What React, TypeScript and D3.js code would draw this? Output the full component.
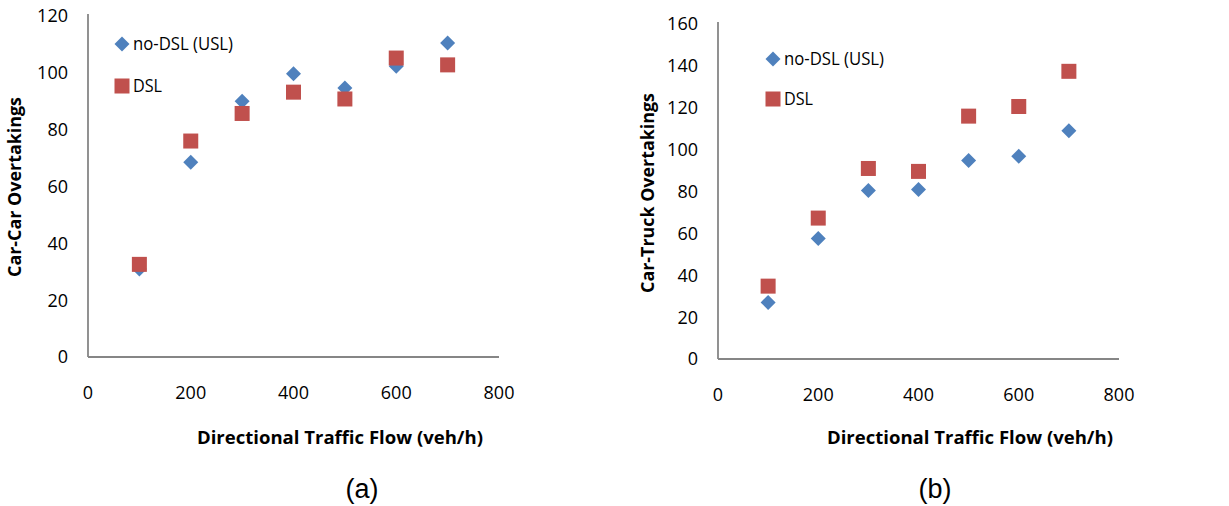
import React from "react";
import * as d3 from "d3";

const flows = [100, 200, 300, 400, 500, 600, 700];
const carCarNoDSL = [31, 68.5, 90, 99.7, 94.7, 102.3, 110.5];
const carCarDSL = [32.6, 76, 85.7, 93.2, 90.8, 105.2, 102.8];
const carTruckNoDSL = [27, 57.5, 80.5, 81, 94.8, 96.8, 109];
const carTruckDSL = [34.8, 67.3, 91, 89.6, 116, 120.6, 137.4];
const xTicks = [0, 200, 400, 600, 800];
const yTicksA = [0, 20, 40, 60, 80, 100, 120];
const yTicksB = [0, 20, 40, 60, 80, 100, 120, 140, 160];
const seriesNames = ["no-DSL (USL)", "DSL"];
const xTitle = "Directional Traffic Flow (veh/h)";

const BLUE = "#4F81BD";
const RED = "#C0504D";
const FONT = "'Open Sans', 'Noto Sans', sans-serif";
const TICK_FS = 18;

type PanelProps = {
  x0: number; x1: number; yTop: number; yBot: number; yMax: number;
  yTicks: number[]; noDSL: number[]; dsl: number[]; yTitle: string;
  yTitleX: number; yTitleY: number; yTitleLen: number;
  xTitleX: number; legendX: number; legendY1: number; legendY2: number;
  label: string; labelX: number;
};

const H = 7.5;
const diamondPath = `M0,${-H}L${H},0L0,${H}L${-H},0Z`;

function Panel(p: PanelProps) {
  const x = d3.scaleLinear().domain([0, 800]).range([p.x0, p.x1]);
  const y = d3.scaleLinear().domain([0, p.yMax]).range([p.yBot, p.yTop]);
  const sq = 15;
  return (
    <g>
      <line x1={p.x0} x2={p.x0} y1={p.yTop - 2} y2={p.yBot} stroke="#868686" strokeWidth={1.8} />
      <line x1={p.x0} x2={p.x1} y1={p.yBot} y2={p.yBot} stroke="#868686" strokeWidth={1.8} />
      {p.yTicks.map((t) => (
        <text key={"y" + t} x={p.x0 - 20} y={y(t)} dy="0.36em" textAnchor="end" fontSize={TICK_FS} fontFamily={FONT} fill="#000">{t}</text>
      ))}
      {xTicks.map((t) => (
        <text key={"x" + t} x={x(t)} y={p.yBot + 36} dy="0.36em" textAnchor="middle" fontSize={TICK_FS} fontFamily={FONT} fill="#000">{t}</text>
      ))}
      {flows.map((f, i) => (
        <path key={"d" + i} d={diamondPath} transform={`translate(${x(f)},${y(p.noDSL[i])})`} fill={BLUE} />
      ))}
      {flows.map((f, i) => (
        <rect key={"s" + i} x={x(f) - sq / 2} y={y(p.dsl[i]) - sq / 2} width={sq} height={sq} fill={RED} />
      ))}
      <path d={diamondPath} transform={`translate(${p.legendX},${p.legendY1})`} fill={BLUE} />
      <text x={p.legendX + 11} y={p.legendY1} dy="0.36em" fontSize={TICK_FS} fontFamily={FONT} fill="#000" textLength={100} lengthAdjust="spacingAndGlyphs">{seriesNames[0]}</text>
      <rect x={p.legendX - sq / 2} y={p.legendY2 - sq / 2} width={sq} height={sq} fill={RED} />
      <text x={p.legendX + 11} y={p.legendY2} dy="0.36em" fontSize={TICK_FS} fontFamily={FONT} fill="#000" textLength={29} lengthAdjust="spacingAndGlyphs">{seriesNames[1]}</text>
      <text transform={`translate(${p.yTitleX},${p.yTitleY}) rotate(-90)`} textAnchor="middle" dy="0.36em" fontSize={17} fontWeight="bold" fontFamily={FONT} fill="#000" textLength={p.yTitleLen} lengthAdjust="spacingAndGlyphs">{p.yTitle}</text>
      <text x={p.xTitleX} y={438} dy="0.36em" textAnchor="middle" fontSize={17} fontWeight="bold" fontFamily={FONT} fill="#000" textLength={286} lengthAdjust="spacingAndGlyphs">{xTitle}</text>
      <text x={p.labelX} y={488} dy="0.36em" textAnchor="middle" fontSize={27} fontFamily="Arial, 'Liberation Sans', sans-serif" fill="#000">{p.label}</text>
    </g>
  );
}

export default function App() {
  return (
    <svg width={1229} height={506} style={{ position: "absolute", left: 0, top: 0, background: "#fff" }}>
      <rect width={1229} height={506} fill="#fff" />
      <Panel x0={88} x1={499} yTop={16} yBot={357} yMax={120} yTicks={yTicksA}
        noDSL={carCarNoDSL} dsl={carCarDSL} yTitle="Car-Car Overtakings"
        yTitleX={15} yTitleY={187} yTitleLen={180} xTitleX={340}
        legendX={122} legendY1={44} legendY2={86} label="(a)" labelX={362} />
      <Panel x0={718} x1={1119} yTop={24} yBot={359} yMax={160} yTicks={yTicksB}
        noDSL={carTruckNoDSL} dsl={carTruckDSL} yTitle="Car-Truck Overtakings"
        yTitleX={648} yTitleY={193} yTitleLen={200} xTitleX={970}
        legendX={773} legendY1={59} legendY2={99} label="(b)" labelX={935} />
    </svg>
  );
}
